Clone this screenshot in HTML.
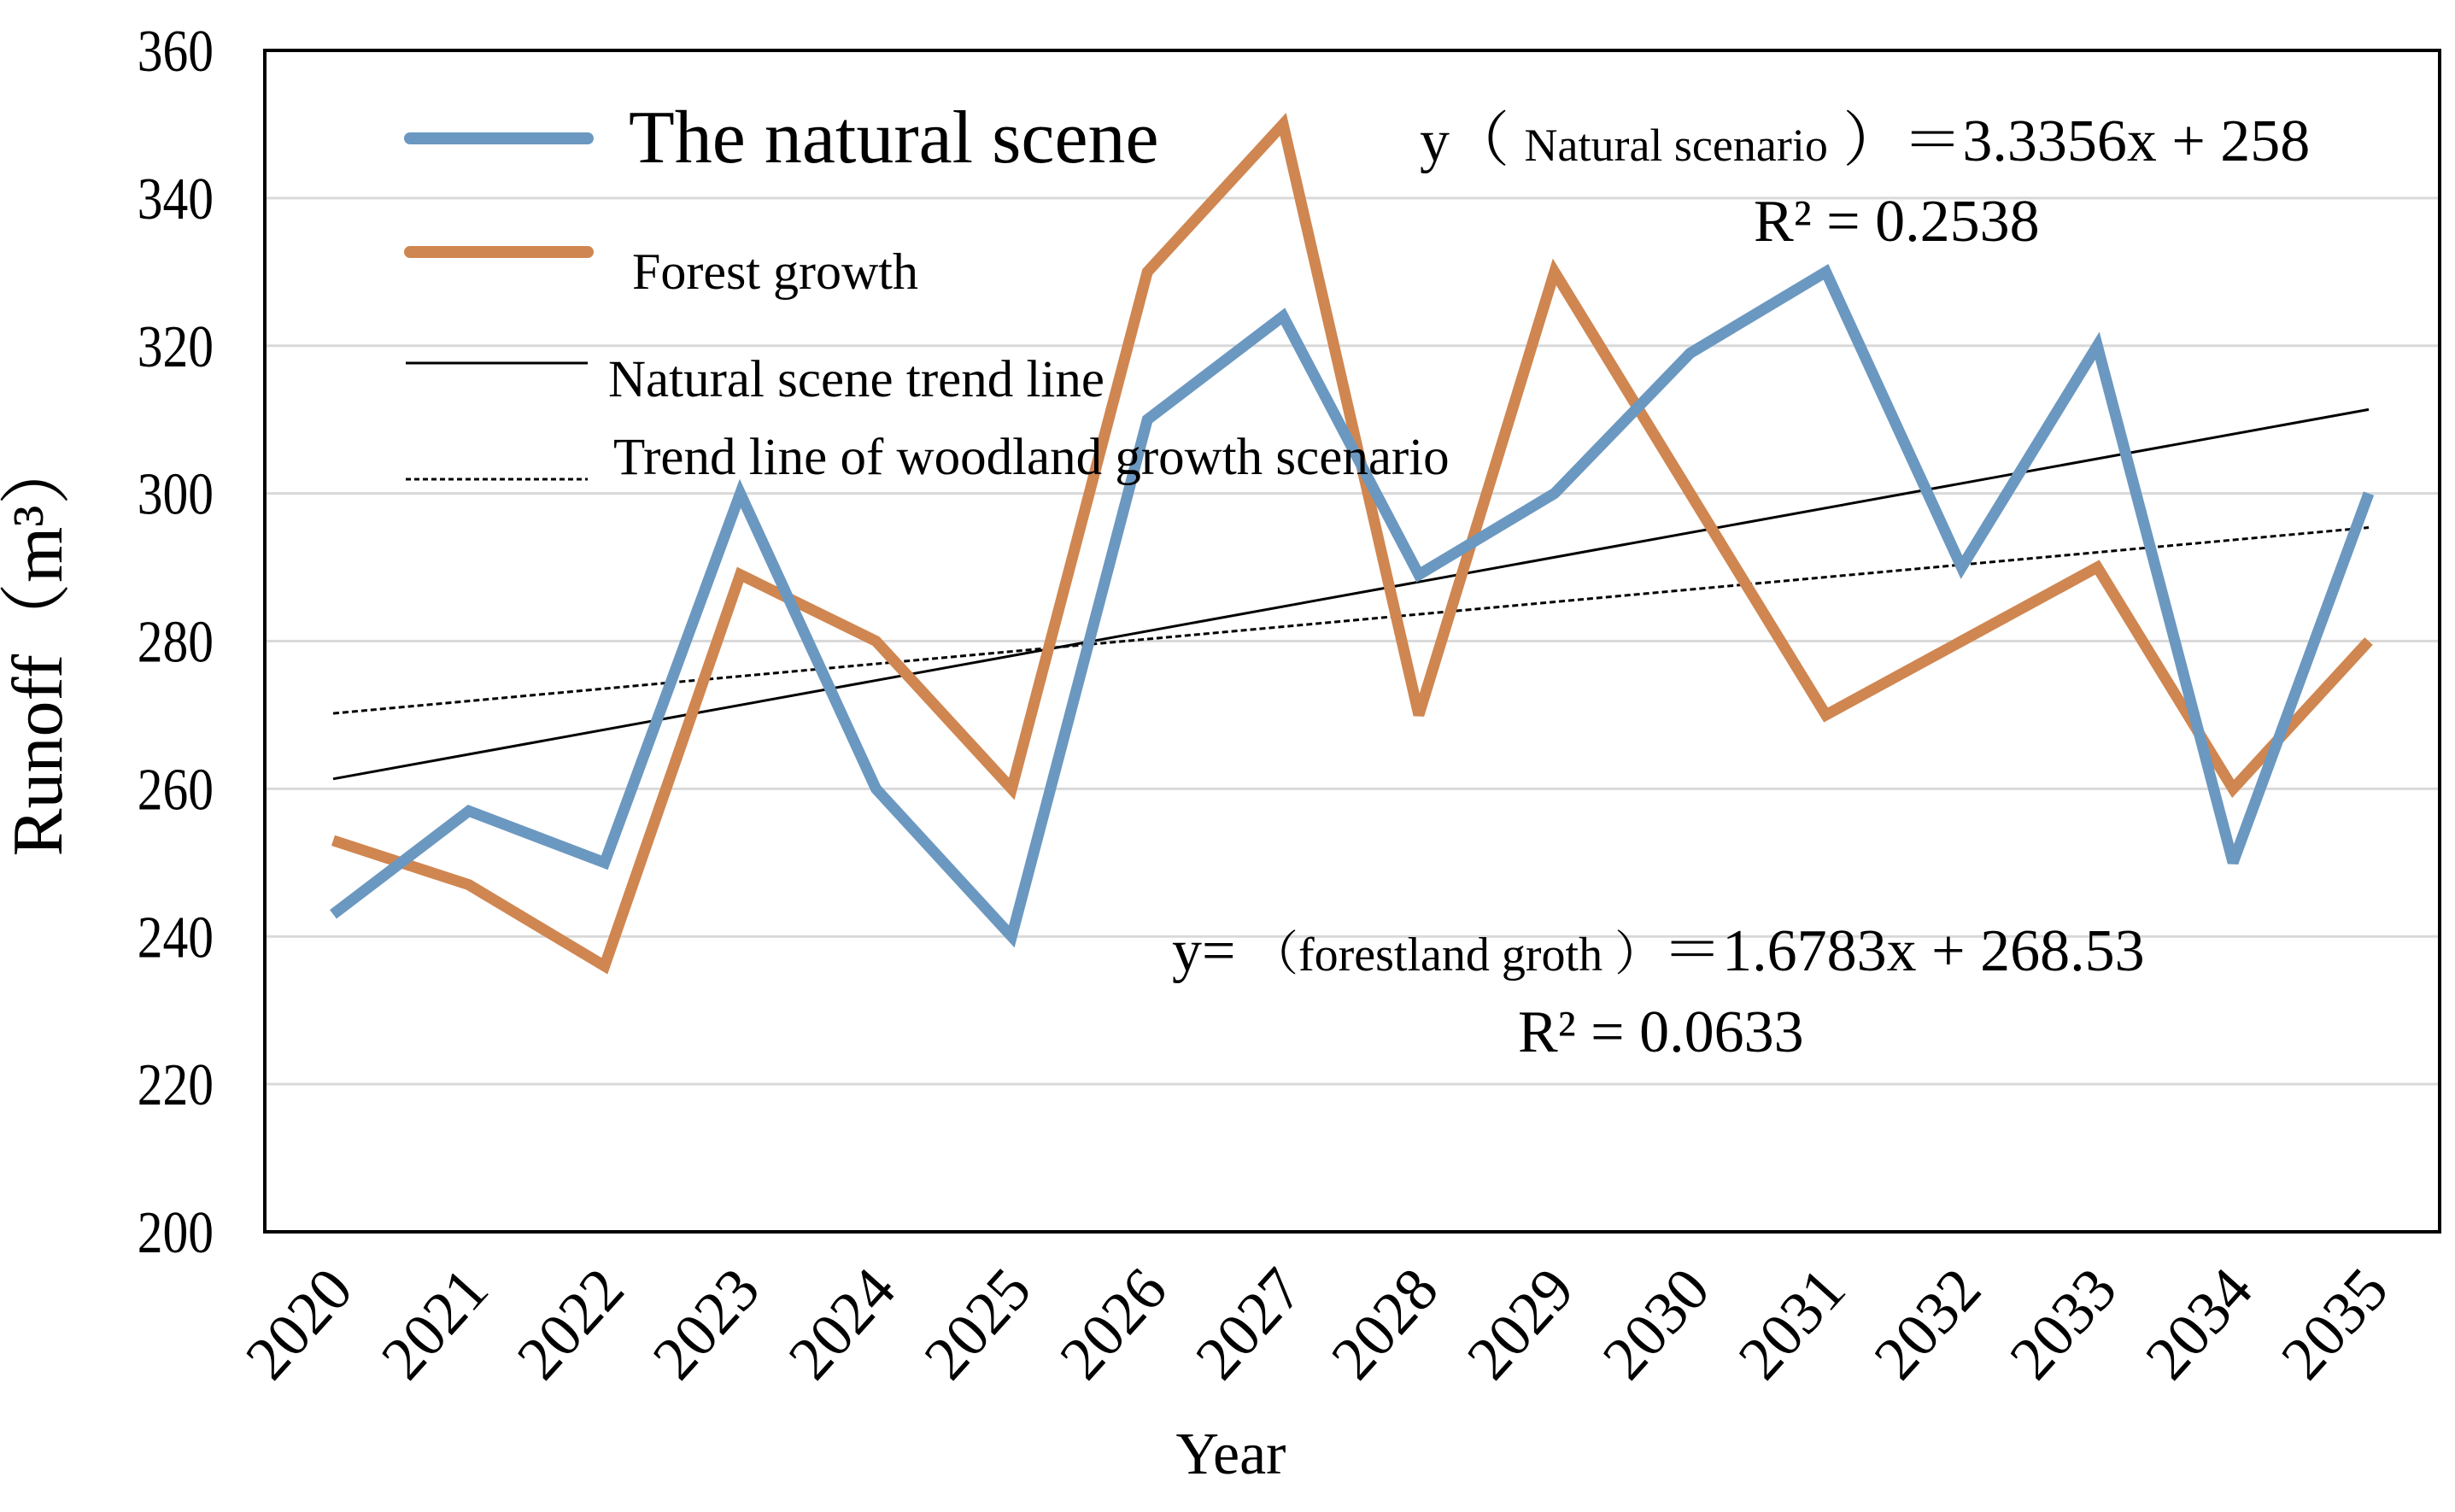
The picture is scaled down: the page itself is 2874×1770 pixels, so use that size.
<!DOCTYPE html>
<html><head><meta charset="utf-8"><style>
html,body{margin:0;padding:0;background:#fff;}
svg{display:block;font-family:"Liberation Serif","Noto Serif CJK SC",serif;}
</style></head><body>
<svg id="chart" width="2874" height="1770" viewBox="0 0 2874 1770" xmlns="http://www.w3.org/2000/svg">
<g id="grid"></g>
<g id="yticks"></g>
<g id="xticks"></g>
<g id="trends"></g>
<g id="series"></g>
<rect x="310" y="59" width="2546" height="1383" fill="none" stroke="#000" stroke-width="4"/>
<text transform="translate(72,755) rotate(-90)" text-anchor="middle" font-size="84">Runoff（m³）</text>
<text x="1441" y="1725" text-anchor="middle" font-size="70">Year</text>
<g>
<line x1="480" y1="162" x2="688" y2="162" stroke="#6b98c0" stroke-width="14" stroke-linecap="round"/>
<text x="736" y="190" font-size="88">The natural scene</text>
<line x1="480" y1="295" x2="688" y2="295" stroke="#d08650" stroke-width="14" stroke-linecap="round"/>
<text x="740" y="338" font-size="60">Forest growth</text>
<line x1="475" y1="425" x2="688" y2="425" stroke="#000" stroke-width="3"/>
<text x="712" y="464" font-size="61">Natural scene trend line</text>
<line x1="475" y1="561" x2="688" y2="561" stroke="#000" stroke-width="3" stroke-dasharray="6,4"/>
<text x="718" y="555" font-size="61">Trend line of woodland growth scenario</text>
</g>
<text x="1662" y="188" font-size="70">y（ <tspan font-size="54">Natural scenario</tspan> ）＝3.3356x + 258</text>
<text x="2053" y="282" font-size="70">R² = 0.2538</text>
<text x="1372" y="1136" font-size="70">y= <tspan font-size="56">（forestland groth ）</tspan>＝1.6783x + 268.53</text>
<text x="1777" y="1231" font-size="70">R² = 0.0633</text>
</svg>
<script>
const years = ["2020","2021","2022","2023","2024","2025","2026","2027","2028","2029","2030","2031","2032","2033","2034","2035"];
const naturalValues = [243,257,250,300,260,240,310,324,289,300,319,330,290,320,250,300];
const forestValues = [253,247,236,289,280,260,330,350,270,330,300,270,280,290,260,280];
const yTicks = [200,220,240,260,280,300,320,340,360];
const naturalTrend = [3.3356, 258];
const forestTrend = [1.6783, 268.53];

const NS="http://www.w3.org/2000/svg";
const X0=390, X1=2773, Y0=1442, Y1=59, VMIN=200, VMAX=360;
function xs(i){return X0+(X1-X0)*i/(years.length-1);}
function ys(v){return Y0-(Y0-Y1)*(v-VMIN)/(VMAX-VMIN);}
function mk(tag,attrs,parent){const e=document.createElementNS(NS,tag);for(const k in attrs)e.setAttribute(k,attrs[k]);parent.appendChild(e);return e;}

const grid=document.getElementById('grid'), yt=document.getElementById('yticks'), xt=document.getElementById('xticks');
yTicks.forEach(v=>{
  if(v>VMIN&&v<VMAX){const g=mk('line',{x1:310,x2:2856,y1:ys(v),y2:ys(v),stroke:'#d9d9d9','stroke-width':3},grid);
  
  }
  const t=mk('text',{x:0,y:0,'text-anchor':'end','font-size':70,transform:`translate(250,${ys(v)+24}) scale(0.85,1)`},yt);
  t.textContent=v;
  
  
});
years.forEach((y,i)=>{
  const t=mk('text',{x:0,y:0,'text-anchor':'end','font-size':72,transform:`translate(${xs(i)+26},${1512}) rotate(-48)`},xt);
  t.textContent=y;
  
  
});
const tr=document.getElementById('trends');
function trend(c,dash,name){
  const n=years.length;
  const l=mk('line',{x1:xs(0),y1:ys(c[0]*1+c[1]),x2:xs(n-1),y2:ys(c[0]*n+c[1]),stroke:'#000','stroke-width':3},tr);
  if(dash)l.setAttribute('stroke-dasharray','7,4');
  
  
}
trend(naturalTrend,false,'natural-trend-line');
trend(forestTrend,true,'forest-trend-line');
const se=document.getElementById('series');
function series(vals,color,name){
  const p=mk('polyline',{points:vals.map((v,i)=>xs(i)+','+ys(v)).join(' '),fill:'none',stroke:color,'stroke-width':13,'stroke-linejoin':'miter','stroke-miterlimit':3},se);
  
  
}
series(forestValues,'#d08650','forest-growth-line');
series(naturalValues,'#6b98c0','natural-scene-line');
</script>
</body></html>
